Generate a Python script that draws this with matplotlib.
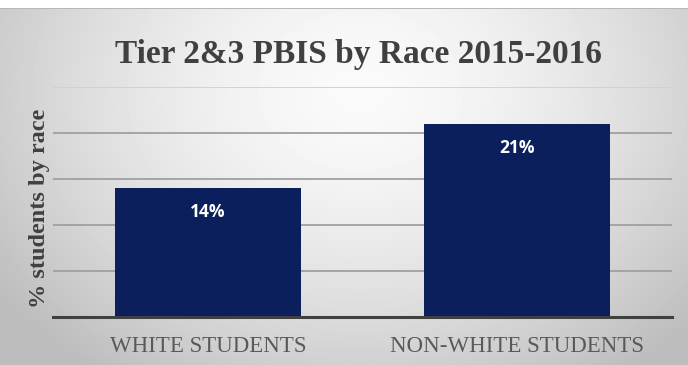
import matplotlib.pyplot as plt
import numpy as np

categories = ['WHITE STUDENTS', 'NON-WHITE STUDENTS']
values = [14, 21]
labels = ['14%', '21%']
yticks = [0, 5, 10, 15, 20, 25]

W, H = 688, 365
fig = plt.figure(figsize=(W / 100, H / 100), dpi=100)

# background: radial grey gradient, white band on top
bg = fig.add_axes([0, 0, 1, 1])
yy, xx = np.mgrid[0:H, 0:W]
r = np.sqrt(((xx - 360) / 420.0) ** 2 + ((yy - 90) / 330.0) ** 2)
shade = np.clip(0.98 - 0.22 * r ** 1.6, 0.74, 1.0)
shade[:8, :] = 1.0
shade[8, :] = 0.72
bg.imshow(shade, cmap='gray', vmin=0, vmax=1, aspect='auto', interpolation='bilinear')
bg.axis('off')

ax = fig.add_axes([53 / W, 1 - 317 / H, 619 / W, 230 / H])
ax.patch.set_alpha(0)
x = np.arange(len(categories))
bars = ax.bar(x, values, width=0.6, color='#0a1f5c', zorder=3)
for b, lab in zip(bars, labels):
    ax.text(b.get_x() + b.get_width() / 2, b.get_height() - 2.6, lab,
            ha='center', va='center', color='white', fontsize=12.5,
            fontweight='bold', family='Open Sans', zorder=4)

ax.set_xlim(-0.5, 1.5)
ax.set_ylim(0, 25)
ax.set_yticks(yticks)
ax.set_yticklabels([])
ax.tick_params(axis='y', length=0)
ax.tick_params(axis='x', length=0, pad=14)
ax.set_xticks(x)
ax.set_xticklabels(categories, family='Liberation Serif', fontsize=16.5, color='#595959')
ax.grid(axis='y', color='#a0a0a0', lw=1.3, zorder=0)
ax.get_ygridlines()[-1].set_color('#d0d0d0')
for s in ['top', 'right', 'left']:
    ax.spines[s].set_visible(False)
ax.spines['bottom'].set_color('#404040')
ax.spines['bottom'].set_linewidth(2.2)
ax.spines['bottom'].set_zorder(5)

ax.set_ylabel('% students by race', family='Liberation Serif', fontsize=17.5,
              fontweight='bold', color='#404040')
ax.yaxis.set_label_coords(-3 / 619, 0.472)

fig.text(358 / W, 1 - 55 / H, 'Tier 2&3 PBIS by Race 2015-2016',
         ha='center', va='center', family='Liberation Serif', fontsize=24,
         fontweight='bold', color='#404040')

fig.savefig('out.png', dpi=100)
